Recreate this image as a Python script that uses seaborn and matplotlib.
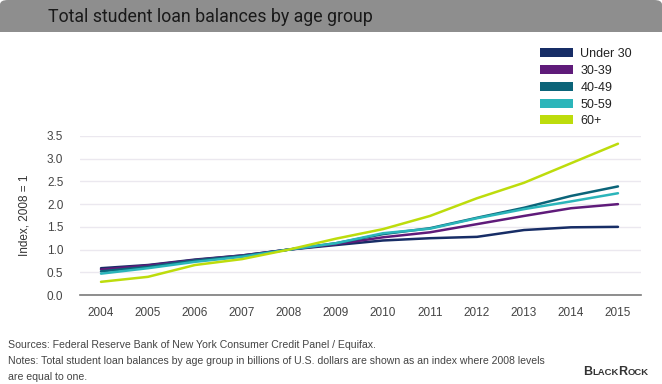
import matplotlib
matplotlib.use("Agg")
import matplotlib.pyplot as plt
import seaborn as sns
import pandas as pd
from matplotlib.patches import Patch, Rectangle, FancyBboxPatch

years = [2004, 2005, 2006, 2007, 2008, 2009, 2010, 2011, 2012, 2013, 2014, 2015]
under30 = [0.59, 0.66, 0.78, 0.87, 1.00, 1.10, 1.20, 1.25, 1.28, 1.43, 1.49, 1.50]
age30_39 = [0.56, 0.65, 0.77, 0.87, 1.00, 1.12, 1.27, 1.38, 1.56, 1.74, 1.91, 2.00]
age40_49 = [0.52, 0.62, 0.76, 0.86, 1.00, 1.14, 1.34, 1.47, 1.70, 1.92, 2.18, 2.39]
age50_59 = [0.47, 0.59, 0.73, 0.84, 1.00, 1.14, 1.36, 1.46, 1.69, 1.89, 2.06, 2.24]
age60 = [0.29, 0.40, 0.66, 0.79, 1.00, 1.24, 1.45, 1.74, 2.13, 2.47, 2.90, 3.33]
groups = ["Under 30", "30-39", "40-49", "50-59", "60+"]
colors = ["#172d66", "#5f1b7a", "#0b6479", "#2bb5ba", "#bddc0c"]

df = pd.concat([
    pd.DataFrame({"Year": years, "Index": vals, "Group": g})
    for g, vals in zip(groups, [under30, age30_39, age40_49, age50_59, age60])
])

sns.set_style("white")
plt.rcParams["font.family"] = ["Liberation Sans", "DejaVu Sans"]

fig = plt.figure(figsize=(6.62, 3.84), dpi=100)
fig.patch.set_facecolor("white")

# title bar
fig.patches.append(FancyBboxPatch((0.0, 1 - 32 / 384), 1.0, 32 / 384,
                                  boxstyle="round,pad=0,rounding_size=0.012",
                                  transform=fig.transFigure, facecolor="#8e8e8e",
                                  edgecolor="none", zorder=0))
fig.patches.append(Rectangle((0.0, 1 - 32 / 384), 1.0, 0.03,
                             transform=fig.transFigure, facecolor="#8e8e8e",
                             edgecolor="none", zorder=0))
fig.text(48 / 662, 1 - 17 / 384, "Total student loan balances by age group",
         fontsize=12.8, color="#1a1a1a", va="center", ha="left", family=["Roboto", "DejaVu Sans"])

ax = fig.add_axes([80 / 662, 1 - 295 / 384, (641 - 80) / 662, (295 - 136) / 384])
sns.lineplot(data=df, x="Year", y="Index", hue="Group", hue_order=groups,
             palette=colors, linewidth=1.8, ax=ax, legend=False)

ax.set_xlim(2003.553, 2015.49)
ax.set_ylim(0, 3.5)
ax.set_xticks(years)
ax.set_xticklabels([str(y) for y in years])
ax.set_yticks([0, 0.5, 1.0, 1.5, 2.0, 2.5, 3.0, 3.5])
ax.set_yticklabels(["0.0", "0.5", "1.0", "1.5", "2.0", "2.5", "3.0", "3.5"])
ax.yaxis.grid(True, color="#ebe8ef", linewidth=1)
ax.set_axisbelow(True)
for s in ["top", "right", "left"]:
    ax.spines[s].set_visible(False)
ax.spines["bottom"].set_color("#7a7a7a")
ax.spines["bottom"].set_linewidth(1.2)
ax.tick_params(axis="both", length=0, labelsize=8.5, labelcolor="#444444")
ax.tick_params(axis="x", pad=9)
ax.tick_params(axis="y", pad=12)
ax.set_xlabel("")
ax.set_ylabel("Index, 2008 = 1", fontsize=8.5, color="#333333", labelpad=12)

handles = [Patch(facecolor=c, edgecolor="none") for c in colors]
fig.legend(handles, groups, loc="upper left", bbox_to_anchor=(529 / 662, 1 - 37 / 384),
           frameon=False, fontsize=9, handlelength=2.6, handleheight=0.75,
           labelspacing=0.38, handletextpad=0.6, labelcolor="#222222")

foot = dict(fontsize=7.6, color="#444444", va="center", ha="left")
fig.text(8 / 662, 1 - 345 / 384, "Sources: Federal Reserve Bank of New York Consumer Credit Panel / Equifax.", **foot)
fig.text(8 / 662, 1 - 361 / 384,
         "Notes: Total student loan balances by age group in billions of U.S. dollars are shown as an index where 2008 levels",
         **foot)
fig.text(8 / 662, 1 - 377 / 384, "are equal to one.", **foot)

# BlackRock wordmark in small caps
renderer = fig.canvas.get_renderer()
xpx = 583
for part, size in [("B", 9.0), ("LACK", 6.8), ("R", 9.0), ("OCK", 6.8)]:
    t = fig.text(xpx / 662, 1 - 375 / 384, part, fontsize=size, fontweight="bold",
                 color="#333333", va="baseline", ha="left")
    xpx += t.get_window_extent(renderer).width

fig.savefig("out.png", dpi=100, facecolor="white")
